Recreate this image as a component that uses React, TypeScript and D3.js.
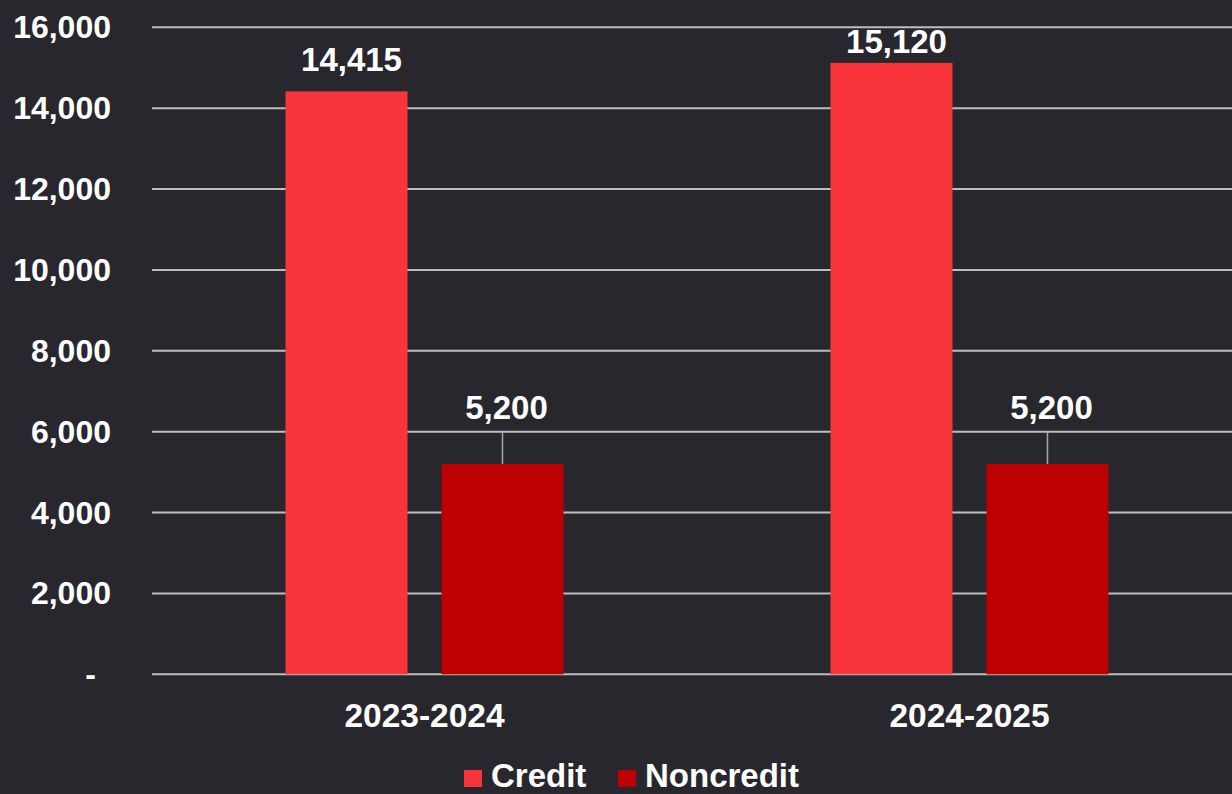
import React from "react";
import * as d3 from "d3";

const categories = ["2023-2024", "2024-2025"];
const seriesNames = ["Credit", "Noncredit"];
const creditValues = [14415, 15120];
const noncreditValues = [5200, 5200];
const yTicks = [0, 2000, 4000, 6000, 8000, 10000, 12000, 14000, 16000];

const seriesColors = ["#f7353a", "#bf0000"];
const W = 1232;
const H = 794;
const FONT = "'Liberation Sans', Arial, Helvetica, sans-serif";

export default function App() {
  const y = d3.scaleLinear().domain([0, 16000]).range([674.3, 27.3]);
  const x0 = d3.scaleBand<string>().domain(categories).range([152, 1242]).paddingInner(0).paddingOuter(0);
  const x1 = d3
    .scaleBand<string>()
    .domain(seriesNames)
    .range([0, x0.bandwidth()])
    .paddingInner(0.218)
    .paddingOuter(0.856);
  const fmt = d3.format(",");
  const seriesValues = [creditValues, noncreditValues];
  // label placement tweaks (baseline gap above bar top)
  const creditGap = [20, 10];
  const noncreditGap = 45;

  return (
    <svg
      width={W}
      height={H}
      style={{ position: "absolute", left: 0, top: 0, background: "#28272d" }}
      fontFamily={FONT}
      fontWeight="bold"
    >
      <rect x={0} y={0} width={W} height={H} fill="#28272d" />
      {/* gridlines */}
      {yTicks.map((t) => (
        <line
          key={"g" + t}
          x1={152}
          x2={W}
          y1={y(t)}
          y2={y(t)}
          stroke="#bdbdbd"
          strokeWidth={2}
        />
      ))}
      {/* y tick labels */}
      {yTicks.map((t) => (
        <text
          key={"t" + t}
          x={t === 0 ? 96 : 111}
          y={y(t) + 11}
          fill="#ffffff"
          fontSize={32}
          textAnchor="end"
        >
          {t === 0 ? "-" : fmt(t)}
        </text>
      ))}
      {/* bars */}
      {categories.map((c, ci) =>
        seriesNames.map((s, si) => {
          const v = seriesValues[si][ci];
          const bx = (x0(c) as number) + (x1(s) as number);
          return (
            <rect
              key={c + s}
              x={bx}
              y={y(v)}
              width={x1.bandwidth()}
              height={y(0) - y(v)}
              fill={seriesColors[si]}
            />
          );
        })
      )}
      {/* leader lines for noncredit labels */}
      {categories.map((c, ci) => {
        const cx = (x0(c) as number) + (x1("Noncredit") as number) + x1.bandwidth() / 2;
        const v = noncreditValues[ci];
        return (
          <line
            key={"l" + c}
            x1={cx}
            x2={cx}
            y1={y(v) - noncreditGap + 13}
            y2={y(v)}
            stroke="#a6a6a6"
            strokeWidth={1.5}
          />
        );
      })}
      {/* value labels */}
      {categories.map((c, ci) => {
        const cx = (x0(c) as number) + (x1("Credit") as number) + x1.bandwidth() / 2 + 5;
        const v = creditValues[ci];
        return (
          <text
            key={"vc" + c}
            x={cx}
            y={y(v) - creditGap[ci]}
            fill="#ffffff"
            fontSize={33}
            textAnchor="middle"
          >
            {fmt(v)}
          </text>
        );
      })}
      {categories.map((c, ci) => {
        const cx = (x0(c) as number) + (x1("Noncredit") as number) + x1.bandwidth() / 2 + 4;
        const v = noncreditValues[ci];
        return (
          <g key={"vn" + c}>
            <rect
              x={cx - 44}
              y={y(v) - noncreditGap - 26}
              width={88}
              height={30}
              fill="#28272d"
            />
            <text
              x={cx}
              y={y(v) - noncreditGap}
              fill="#ffffff"
              fontSize={33}
              textAnchor="middle"
            >
              {fmt(v)}
            </text>
          </g>
        );
      })}
      {/* x labels */}
      {categories.map((c) => (
        <text
          key={"x" + c}
          x={(x0(c) as number) + x0.bandwidth() / 2}
          y={727}
          fill="#ffffff"
          fontSize={33.5}
          textAnchor="middle"
        >
          {c}
        </text>
      ))}
      {/* legend */}
      {seriesNames.map((s, i) => {
        const lx = i === 0 ? 464 : 618;
        return (
          <g key={"lg" + s}>
            <rect x={lx} y={770} width={18} height={17} fill={seriesColors[i]} />
            <text x={lx + 27} y={787} fill="#ffffff" fontSize={33}>
              {s}
            </text>
          </g>
        );
      })}
    </svg>
  );
}
